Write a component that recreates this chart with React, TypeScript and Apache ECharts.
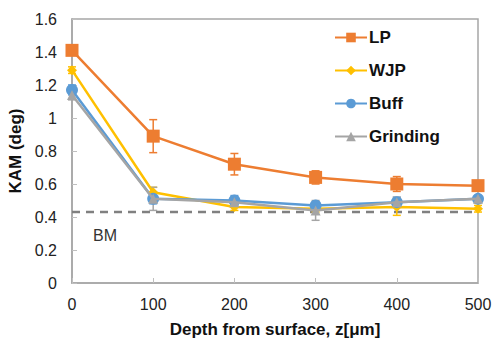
import React, { useEffect, useRef } from "react";
import * as echarts from "echarts";

const depths = [0, 100, 200, 300, 400, 500];
const lpValues = [1.41, 0.89, 0.72, 0.64, 0.6, 0.59];
const lpErrors = [0.02, 0.1, 0.065, 0.04, 0.045, 0.02];
const wjpValues = [1.29, 0.55, 0.46, 0.45, 0.46, 0.45];
const wjpErrors = [0.02, 0.03, 0.02, 0.02, 0.05, 0.02];
const buffValues = [1.17, 0.51, 0.5, 0.47, 0.49, 0.51];
const buffErrors = [0.03, 0.03, 0.03, 0.02, 0.03, 0.02];
const grindValues = [1.14, 0.51, 0.49, 0.44, 0.49, 0.51];
const grindErrors = [0.03, 0.07, 0.03, 0.06, 0.03, 0.02];
const bmValue = 0.43;
const yTicks = [0, 0.2, 0.4, 0.6, 0.8, 1, 1.2, 1.4, 1.6];

const FONT = "Liberation Sans, Arial, sans-serif";

export default function App() {
  const ref = useRef<HTMLDivElement>(null);
  useEffect(() => {
    if (!ref.current) return;
    const chart = echarts.init(ref.current, undefined, { renderer: "svg" });

    const mk = (name: string, vals: number[], color: string, symbol: string, size: number, z: number) => ({
      name,
      type: "line",
      data: depths.map((d, i) => [d, vals[i]]),
      symbol,
      symbolSize: size,
      z,
      lineStyle: { color, width: 2.5 },
      itemStyle: { color },
    });
    const err = (name: string, vals: number[], errs: number[], color: string, z: number) => ({
      name,
      type: "custom",
      z,
      data: depths.map((d, i) => [d, vals[i] - errs[i], vals[i] + errs[i]]),
      renderItem: (params: any, api: any) => {
        const lo = api.coord([api.value(0), api.value(1)]);
        const hi = api.coord([api.value(0), api.value(2)]);
        const hw = 4;
        const st = { stroke: color, lineWidth: 1.5 };
        return {
          type: "group",
          children: [
            { type: "line", shape: { x1: lo[0], y1: lo[1], x2: hi[0], y2: hi[1] }, style: st },
            { type: "line", shape: { x1: lo[0] - hw, y1: lo[1], x2: lo[0] + hw, y2: lo[1] }, style: st },
            { type: "line", shape: { x1: hi[0] - hw, y1: hi[1], x2: hi[0] + hw, y2: hi[1] }, style: st },
          ],
        };
      },
    });

    const option: any = {
      animation: false,
      grid: {
        left: 72,
        right: 18,
        top: 19,
        bottom: 55,
        containLabel: false,
        outerBoundsMode: "none",
        show: true,
        borderColor: "#a6a6a6",
        borderWidth: 1.5,
      },
      legend: {
        data: ["LP", "WJP", "Buff", "Grinding"],
        orient: "vertical",
        left: 334,
        top: 29,
        padding: 0,
        itemWidth: 32,
        itemHeight: 12,
        itemGap: 16,
        textStyle: { fontFamily: FONT, fontWeight: "bold", fontSize: 17, color: "#111", padding: [0, 0, 0, -3] },
      },
      xAxis: {
        type: "value",
        min: 0,
        max: 500,
        interval: 100,
        name: "Depth from surface, z[μm]",
        nameLocation: "middle",
        nameGap: 38,
        nameTextStyle: { fontFamily: FONT, fontWeight: "bold", fontSize: 17, color: "#111" },
        axisLine: { lineStyle: { color: "#a6a6a6", width: 1.5 } },
        axisTick: { inside: true, length: 5, lineStyle: { color: "#bfbfbf" } },
        axisLabel: { fontFamily: FONT, fontSize: 16, color: "#222", margin: 13 },
        splitLine: { show: false },
      },
      yAxis: {
        type: "value",
        min: 0,
        max: 1.6,
        interval: 0.2,
        name: "KAM (deg)",
        nameLocation: "middle",
        nameGap: 45,
        nameTextStyle: { fontFamily: FONT, fontWeight: "bold", fontSize: 17, color: "#111" },
        axisLine: { show: true, lineStyle: { color: "#a6a6a6", width: 1.5 } },
        axisTick: { show: true, inside: true, length: 5, lineStyle: { color: "#bfbfbf" } },
        axisLabel: {
          fontFamily: FONT,
          fontSize: 16,
          color: "#222",
          margin: 15,
          formatter: (v: number) => {
            const t = yTicks.find((y) => Math.abs(y - v) < 1e-6);
            return String(t !== undefined ? t : v);
          },
        },
        splitLine: { show: false },
      },
      series: [
        {
          name: "BM",
          type: "line",
          data: [[0, bmValue], [500, bmValue]],
          symbol: "none",
          lineStyle: { color: "#808080", width: 2.5, type: [8, 6] },
          z: 1,
          silent: true,
        },
        err("LPerr", lpValues, lpErrors, "#ED7D31", 2),
        err("WJPerr", wjpValues, wjpErrors, "#FFC000", 2),
        err("Bufferr", buffValues, buffErrors, "#5B9BD5", 2),
        err("Grinderr", grindValues, grindErrors, "#A5A5A5", 2),
        mk("LP", lpValues, "#ED7D31", "rect", 13, 3),
        mk("WJP", wjpValues, "#FFC000", "diamond", 10, 3),
        mk("Buff", buffValues, "#5B9BD5", "circle", 12, 3),
        mk("Grinding", grindValues, "#A5A5A5", "triangle", 10, 4),
      ],
      graphic: [
        {
          type: "text",
          left: 93,
          top: 227,
          style: { text: "BM", fontFamily: FONT, fontSize: 16, fill: "#333" },
        },
      ],
    };
    chart.setOption(option);
    return () => chart.dispose();
  }, []);
  return <div ref={ref} style={{ width: 496, height: 338, position: "absolute", left: 0, top: 0, background: "#fff" }} />;
}
